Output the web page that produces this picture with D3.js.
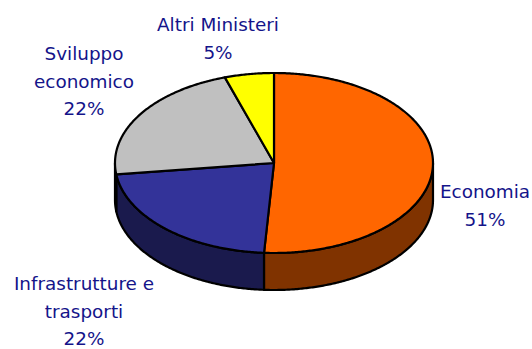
<!DOCTYPE html>
<html>
<head>
<meta charset="utf-8">
<script src="https://cdn.jsdelivr.net/npm/d3@7"></script>
<style>
html, body { margin: 0; padding: 0; background: #fff; }
svg { display: block; }
text { font-family: "DejaVu Sans", sans-serif; font-size: 18.4px; fill: #14148a; text-anchor: middle; }
</style>
</head>
<body>
<svg id="chart" width="532" height="349"></svg>
<script>
// Ministry shares, clockwise from twelve o'clock
const categories = ["Economia", "Infrastrutture e trasporti", "Sviluppo economico", "Altri Ministeri"];
const shares = [51, 22, 22, 5];
const topColors = ["#ff6600", "#333399", "#c0c0c0", "#ffff00"];
const wallColors = ["#803300", "#1a1a4d", "#606060", "#808000"];
const labelLines = [["Economia", "51%"], ["Infrastrutture e", "trasporti", "22%"], ["Sviluppo", "economico", "22%"], ["Altri Ministeri", "5%"]];
const labelAnchors = [[485, 198], [84, 290], [84, 60], [218, 31]];

const cx = 274, cy = 163, rx = 159, ry = 90, depth = 37, lineStep = 27.5;
const svg = d3.select("#chart");

const arcs = d3.pie().sort(null).value(d => d).startAngle(0).endAngle(2 * Math.PI)(shares);

// Tilted disc: pie angles map onto an ellipse
const px = d3.scaleLinear().domain([-1, 1]).range([cx - rx, cx + rx]);
const py = d3.scaleLinear().domain([-1, 1]).range([cy - ry, cy + ry]);
const stepCount = a => Math.max(2, Math.ceil(Math.abs(a) / 0.01));
const rimAngles = (a0, a1) => d3.range(stepCount(a1 - a0) + 1).map(i => a0 + (a1 - a0) * i / stepCount(a1 - a0));
const rimPoint = (a, dy = 0) => [px(Math.sin(a)), py(-Math.cos(a)) + dy];
const outline = d3.line();

// Side wall: only the part of each slice facing the viewer (between 90 and 270 degrees)
const front = [Math.PI / 2, 3 * Math.PI / 2];
arcs.forEach((d, i) => {
  const a0 = Math.max(d.startAngle, front[0]);
  const a1 = Math.min(d.endAngle, front[1]);
  if (a1 <= a0) return;
  const upper = rimAngles(a0, a1).map(a => rimPoint(a));
  const lower = rimAngles(a0, a1).reverse().map(a => rimPoint(a, depth));
  svg.append("path")
    .attr("d", outline(upper.concat(lower)) + "Z")
    .attr("fill", wallColors[i])
    .attr("stroke", "#000")
    .attr("stroke-width", 2.2)
    .attr("stroke-linejoin", "round");
});

// Top face of the disc
arcs.forEach((d, i) => {
  const rim = rimAngles(d.startAngle, d.endAngle).map(a => rimPoint(a));
  svg.append("path")
    .attr("d", outline([[cx, cy]].concat(rim)) + "Z")
    .attr("fill", topColors[i])
    .attr("stroke", "#000")
    .attr("stroke-width", 2.2)
    .attr("stroke-linejoin", "round");
});

// Category labels with their percentages
labelLines.forEach((lines, i) => {
  const t = svg.append("text").attr("aria-label", categories[i]);
  lines.forEach((line, j) => {
    t.append("tspan")
      .attr("x", labelAnchors[i][0])
      .attr("y", labelAnchors[i][1] + j * (lines.length === 3 ? lineStep : 28))
      .text(line);
  });
});
</script>
</body>
</html>
